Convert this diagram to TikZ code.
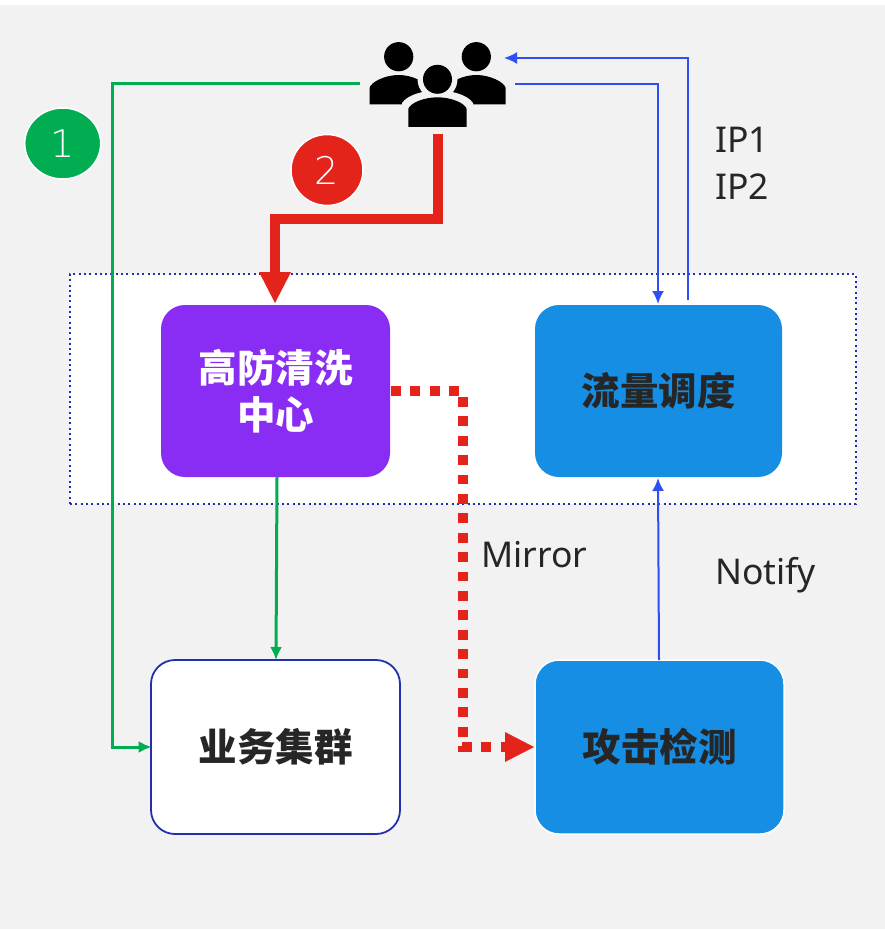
\documentclass[tikz,border=0pt]{standalone}
\usepackage{fontspec}
\setmainfont{Noto Sans}
\newfontfamily\cjk{Noto Sans CJK SC}
\newfontfamily\thindigit{DejaVu Sans ExtraLight}
\usetikzlibrary{arrows.meta,shapes.geometric}
\definecolor{bgc}{HTML}{F2F2F2}
\definecolor{greenc}{HTML}{00AD50}
\definecolor{redc}{HTML}{E4231A}
\definecolor{bluec}{HTML}{2F4FF5}
\definecolor{boxblue}{HTML}{158EE3}
\definecolor{purp}{HTML}{8A2DF4}
\definecolor{navy}{HTML}{2230B0}
\definecolor{txt}{HTML}{262626}
\tikzset{
  blockbox/.style={rounded corners=24pt,inner sep=0pt,align=center,font=\cjk\fontsize{38.5}{47}\selectfont\bfseries,text=txt},
  lbl/.style={font=\fontsize{35.5}{44}\selectfont,text=txt,inner sep=0pt},
  badge/.style={ellipse,draw=white,line width=1.5pt,inner sep=0pt,text=white,font=\thindigit\fontsize{38}{40}\selectfont},
  greenline/.style={draw=greenc,line width=3pt,-{Latex[length=13pt,width=12pt]}},
  blueline/.style={draw=bluec,line width=2pt,-{Latex[length=13pt,width=12pt]}},
  person/.style={fill=black,draw=none},
  reddots/.style={redc,line width=10pt,dash pattern=on 9.7pt off 9.7pt}
}
\begin{document}
\begin{tikzpicture}[x=1pt,y=-1pt]
\useasboundingbox (0,0) rectangle (885,931);
\fill[white] (0,0) rectangle (885,931);
\fill[bgc] (0,5) rectangle (885,929);
% band
\node[draw=navy,dash pattern=on 2pt off 3.3pt,line width=1.6pt,fill=white,minimum width=786pt,minimum height=230pt,inner sep=0pt] (band) at (463,389) {};
% blocks
\node[blockbox,fill=purp,text=white,minimum width=229pt,minimum height=172pt] (clean) at (275.5,391) {高防清洗\\中心};
\node[blockbox,fill=boxblue,minimum width=247pt,minimum height=172pt] (sched) at (658.5,391) {\raisebox{-1pt}{流量调度}};
\node[blockbox,fill=white,draw=navy,line width=1.8pt,minimum width=249pt,minimum height=174pt] (biz) at (275.5,747) {业务集群};
\node[blockbox,fill=boxblue,draw=white,line width=1.5pt,minimum width=249pt,minimum height=174pt] (detect) at (659.5,747) {攻击检测};
% users icon
\node[minimum width=137pt,minimum height=85pt,inner sep=0pt] (users) at (437.5,84.5) {};
\fill[person] (398.7,56.7) circle (14.6);
\fill[person] (476.3,56.7) circle (14.6);
\fill[person] (369.5,104.5) -- (369.5,88) .. controls (371,82) and (385,75) .. (398.7,75) .. controls (412,75) and (426,82) .. (428,88) -- (428,104.5) -- cycle;
\fill[person] (447,104.5) -- (447,88) .. controls (449,82) and (463,75) .. (476.3,75) .. controls (490,75) and (504,82) .. (505.7,88) -- (505.7,104.5) -- cycle;
\fill[bgc] (437.5,79.3) circle (20);
\fill[bgc] (402,128) -- (402,103) .. controls (408,94) and (425,90.5) .. (437.5,90.5) .. controls (450,90.5) and (467,94) .. (473,103) -- (473,128) -- cycle;
\fill[person] (437.5,79.3) circle (14.5);
\fill[person] (408.3,126.8) -- (408.3,109) .. controls (410,103) and (424,97.3) .. (437.5,97.3) .. controls (451,97.3) and (465,103) .. (466.7,109) -- (466.7,126.8) -- cycle;
% connector anchors
\coordinate (ugreen) at (360,84);
\coordinate (uredstart) at (438,134);
\coordinate (ubluein) at (504,58);
\coordinate (ublueout) at (515,84);
\coordinate (sout) at (688,300);
\coordinate (cin) at (275,303);
\coordinate (sin) at (658,304);
\coordinate (cdot) at (391,391);
% connectors
\draw[greenline,shorten >=-1.5pt] (ugreen) -- (112,84) -- (112,747) -- (biz.west);
\draw[greenline] (clean.south) ++(1.5,0) -- (276,660);
\draw[blueline] (sout) -- (688,58) -- (ubluein);
\draw[blueline] (ublueout) -- (658,84) -- (sin);
\draw[blueline] (659,660) -- (658,478);
\draw[redc,line width=10pt,miter limit=10] (uredstart) -- (438,219) -- (275,219) -- (275,275);
\draw[draw=none,fill=redc] (259,272) -- (291,272) -- (cin) -- cycle;
\draw[reddots] (cdot) -- (459,391);
\draw[reddots] (463,397) -- (463,752);
\draw[reddots] (462,747) -- (510,747);
\draw[draw=none,fill=redc] (505,732) -- (534,747) -- (505,762) -- cycle;
% badges
\node[badge,fill=greenc,minimum width=76pt,minimum height=71pt] (b1) at (62.7,143.5) {1};
\node[badge,fill=redc,minimum width=72pt,minimum height=71pt] (b2) at (327,170) {2};
% labels
\node[lbl,anchor=west] (ip1) at (715,140) {IP1};
\node[lbl,anchor=west] (ip2) at (715,187) {IP2};
\node[lbl,anchor=west] (mirror) at (481,555) {Mirror};
\node[lbl,anchor=west] (notify) at (715,575) {Notify};
\end{tikzpicture}
\end{document}
